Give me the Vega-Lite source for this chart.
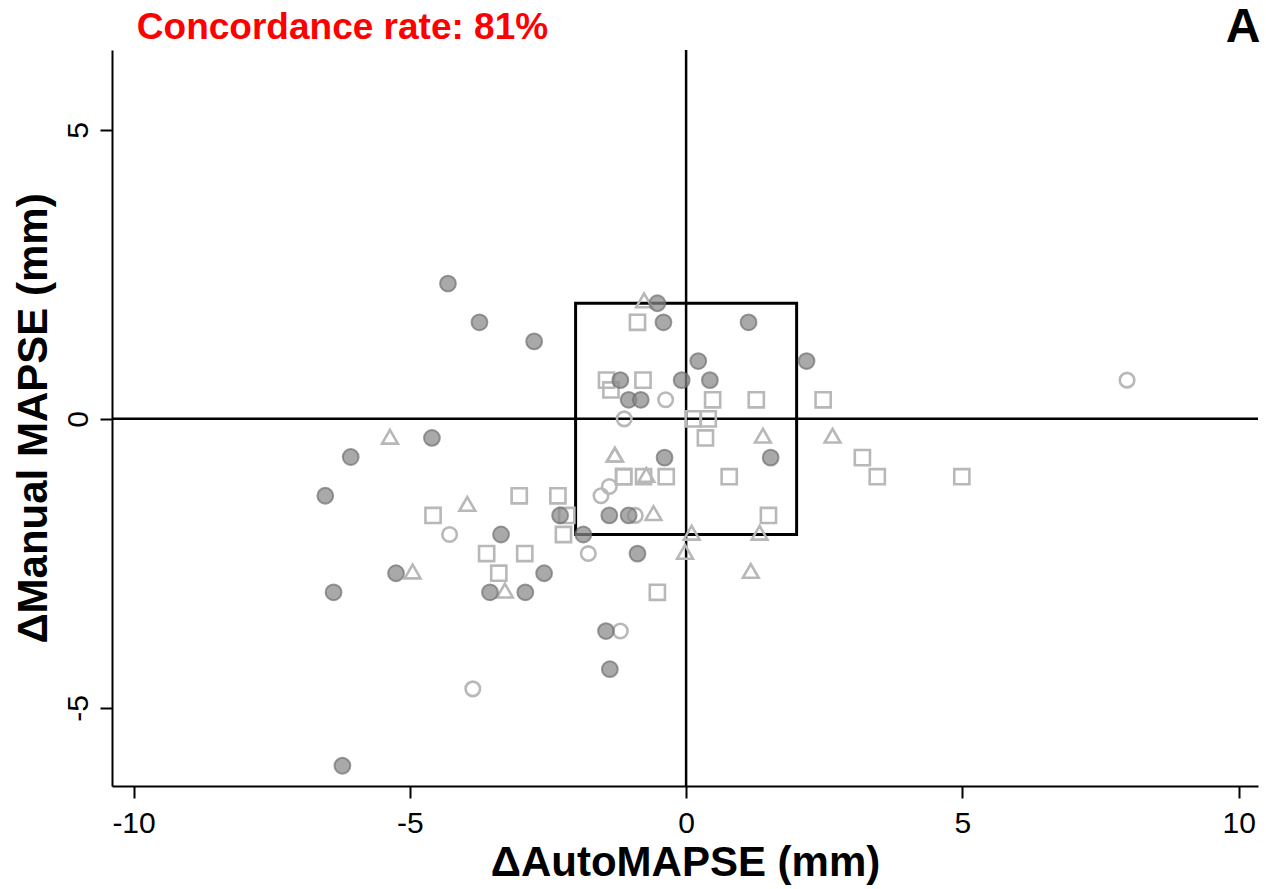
{
  "$schema": "https://vega.github.io/schema/vega-lite/v6.json",
  "autosize": {"type": "none"},
  "padding": {"left": 112, "top": 50, "right": 8, "bottom": 103},
  "width": 1146,
  "height": 736,
  "background": "white",
  "config": {
    "view": {"stroke": null},
    "font": "Liberation Sans",
    "axis": {
      "grid": false,
      "domainColor": "black",
      "domainWidth": 2,
      "tickColor": "black",
      "tickWidth": 2,
      "tickSize": 12,
      "labelFont": "Liberation Sans",
      "labelFontSize": 30,
      "labelColor": "black",
      "titleFont": "Liberation Sans",
      "titleFontSize": 42,
      "titleFontWeight": "bold",
      "titleColor": "black"
    }
  },
  "datasets": {
    "points": [
      {"dx": -4.31, "dy": 2.34, "type": "F"},
      {"dx": -3.74, "dy": 1.67, "type": "F"},
      {"dx": -2.75, "dy": 1.34, "type": "F"},
      {"dx": -4.60, "dy": -0.33, "type": "F"},
      {"dx": -6.07, "dy": -0.66, "type": "F"},
      {"dx": -6.53, "dy": -1.33, "type": "F"},
      {"dx": -2.28, "dy": -1.67, "type": "F"},
      {"dx": -3.35, "dy": -2.00, "type": "F"},
      {"dx": -5.25, "dy": -2.67, "type": "F"},
      {"dx": -2.57, "dy": -2.67, "type": "F"},
      {"dx": -6.38, "dy": -3.00, "type": "F"},
      {"dx": -3.55, "dy": -3.00, "type": "F"},
      {"dx": -2.91, "dy": -3.00, "type": "F"},
      {"dx": -6.22, "dy": -6.00, "type": "F"},
      {"dx": -0.52, "dy": 2.00, "type": "F"},
      {"dx": -0.41, "dy": 1.67, "type": "F"},
      {"dx": 1.13, "dy": 1.67, "type": "F"},
      {"dx": 0.22, "dy": 1.00, "type": "F"},
      {"dx": 2.18, "dy": 1.00, "type": "F"},
      {"dx": -1.19, "dy": 0.67, "type": "F"},
      {"dx": -0.08, "dy": 0.67, "type": "F"},
      {"dx": 0.43, "dy": 0.67, "type": "F"},
      {"dx": -1.04, "dy": 0.33, "type": "F"},
      {"dx": -0.82, "dy": 0.33, "type": "F"},
      {"dx": -0.39, "dy": -0.67, "type": "F"},
      {"dx": 1.53, "dy": -0.67, "type": "F"},
      {"dx": -1.39, "dy": -1.67, "type": "F"},
      {"dx": -1.04, "dy": -1.67, "type": "F"},
      {"dx": -1.86, "dy": -2.00, "type": "F"},
      {"dx": -0.88, "dy": -2.33, "type": "F"},
      {"dx": -1.45, "dy": -3.67, "type": "F"},
      {"dx": -1.38, "dy": -4.33, "type": "F"},
      {"dx": -4.28, "dy": -2.00, "type": "O"},
      {"dx": -3.86, "dy": -4.67, "type": "O"},
      {"dx": -0.37, "dy": 0.33, "type": "O"},
      {"dx": -1.12, "dy": 0.00, "type": "O"},
      {"dx": -1.39, "dy": -1.17, "type": "O"},
      {"dx": -1.54, "dy": -1.33, "type": "O"},
      {"dx": -0.92, "dy": -1.67, "type": "O"},
      {"dx": -1.77, "dy": -2.33, "type": "O"},
      {"dx": -1.19, "dy": -3.67, "type": "O"},
      {"dx": 7.98, "dy": 0.67, "type": "O"},
      {"dx": -4.58, "dy": -1.67, "type": "S"},
      {"dx": -3.02, "dy": -1.33, "type": "S"},
      {"dx": -2.32, "dy": -1.33, "type": "S"},
      {"dx": -2.16, "dy": -1.67, "type": "S"},
      {"dx": -2.22, "dy": -2.00, "type": "S"},
      {"dx": -3.61, "dy": -2.33, "type": "S"},
      {"dx": -2.92, "dy": -2.33, "type": "S"},
      {"dx": -3.39, "dy": -2.67, "type": "S"},
      {"dx": -0.88, "dy": 1.67, "type": "S"},
      {"dx": -1.44, "dy": 0.67, "type": "S"},
      {"dx": -0.78, "dy": 0.67, "type": "S"},
      {"dx": -1.36, "dy": 0.50, "type": "S"},
      {"dx": 0.48, "dy": 0.33, "type": "S"},
      {"dx": 1.27, "dy": 0.33, "type": "S"},
      {"dx": 2.48, "dy": 0.33, "type": "S"},
      {"dx": 0.13, "dy": 0.00, "type": "S"},
      {"dx": 0.40, "dy": 0.00, "type": "S"},
      {"dx": 0.35, "dy": -0.33, "type": "S"},
      {"dx": -1.13, "dy": -1.00, "type": "S"},
      {"dx": -1.13, "dy": -1.00, "type": "S"},
      {"dx": -0.77, "dy": -1.00, "type": "S"},
      {"dx": -0.36, "dy": -1.00, "type": "S"},
      {"dx": 0.78, "dy": -1.00, "type": "S"},
      {"dx": 1.49, "dy": -1.67, "type": "S"},
      {"dx": -0.52, "dy": -3.00, "type": "S"},
      {"dx": 3.19, "dy": -0.67, "type": "S"},
      {"dx": 3.46, "dy": -1.00, "type": "S"},
      {"dx": 4.99, "dy": -1.00, "type": "S"},
      {"dx": -5.36, "dy": -0.31, "type": "T"},
      {"dx": -3.96, "dy": -1.47, "type": "T"},
      {"dx": -4.95, "dy": -2.64, "type": "T"},
      {"dx": -3.28, "dy": -2.97, "type": "T"},
      {"dx": -0.76, "dy": 2.05, "type": "T"},
      {"dx": 1.39, "dy": -0.29, "type": "T"},
      {"dx": -1.29, "dy": -0.62, "type": "T"},
      {"dx": -1.29, "dy": -0.62, "type": "T"},
      {"dx": -0.72, "dy": -0.97, "type": "T"},
      {"dx": -0.59, "dy": -1.63, "type": "T"},
      {"dx": 0.10, "dy": -1.97, "type": "T"},
      {"dx": 1.33, "dy": -1.97, "type": "T"},
      {"dx": -0.02, "dy": -2.30, "type": "T"},
      {"dx": 1.17, "dy": -2.63, "type": "T"},
      {"dx": 2.65, "dy": -0.29, "type": "T"}
    ],
    "box": [{"x1": -2, "x2": 2, "y1": -2, "y2": 2}],
    "labels": [
      {"label": "A", "lx": 10.08, "ly": 6.52, "kind": "panel"},
      {"label": "Concordance rate: 81%", "lx": -9.94, "ly": 6.57, "kind": "title"}
    ]
  },
  "layer": [
    {
      "data": {"values": [{"v": 0}]},
      "mark": {"type": "rule", "color": "black", "strokeWidth": 2.5},
      "encoding": {"x": {"field": "v", "type": "quantitative"}}
    },
    {
      "data": {"values": [{"v": 0}]},
      "mark": {"type": "rule", "color": "black", "strokeWidth": 2.5},
      "encoding": {"y": {"field": "v", "type": "quantitative"}}
    },
    {
      "data": {"name": "box"},
      "mark": {"type": "rect", "filled": false, "stroke": "black", "strokeWidth": 3},
      "encoding": {
        "x": {"field": "x1", "type": "quantitative"},
        "x2": {"field": "x2"},
        "y": {"field": "y1", "type": "quantitative"},
        "y2": {"field": "y2"}
      }
    },
    {
      "data": {"name": "points"},
      "transform": [{"filter": "datum.type != 'F'"}],
      "mark": {"type": "point", "filled": false, "strokeWidth": 2.6, "color": "#b8b8b8", "opacity": 1},
      "encoding": {
        "x": {
          "field": "dx", "type": "quantitative",
          "scale": {"domain": [-10.39, 10.35], "nice": false, "zero": false},
          "axis": {
            "title": "ΔAutoMAPSE (mm)",
            "values": [-10, -5, 0, 5, 10],
            "labelExpr": "datum.value < 0 ? '-' + abs(datum.value) : '' + datum.value",
            "labelPadding": 10,
            "labelBaseline": "top",
            "titleY": 89,
            "titleBaseline": "alphabetic"
          }
        },
        "y": {
          "field": "dy", "type": "quantitative",
          "scale": {"domain": [-6.35, 6.38], "nice": false, "zero": false},
          "axis": {
            "title": "ΔManual MAPSE (mm)",
            "values": [-5, 0, 5],
            "labelExpr": "datum.value < 0 ? '-' + abs(datum.value) : '' + datum.value",
            "labelAngle": -90,
            "labelAlign": "center",
            "labelBaseline": "alphabetic",
            "labelPadding": 13,
            "titleX": -66,
            "titleY": 368,
            "titleAngle": -90,
            "titleAlign": "center",
            "titleBaseline": "alphabetic"
          }
        },
        "shape": {
          "field": "type", "type": "nominal",
          "scale": {"domain": ["O", "S", "T"], "range": ["circle", "square", "triangle-up"]},
          "legend": null
        },
        "size": {
          "field": "type", "type": "nominal",
          "scale": {"domain": ["O", "S", "T"], "range": [210, 250, 330]},
          "legend": null
        }
      }
    },
    {
      "data": {"name": "points"},
      "transform": [{"filter": "datum.type == 'F'"}],
      "mark": {"type": "point", "shape": "circle", "filled": true, "size": 250, "fill": "#888888", "fillOpacity": 0.72, "stroke": "#707070", "strokeOpacity": 0.7, "strokeWidth": 2},
      "encoding": {
        "x": {"field": "dx", "type": "quantitative"},
        "y": {"field": "dy", "type": "quantitative"}
      }
    },
    {
      "data": {"name": "labels"},
      "transform": [{"filter": "datum.kind == 'panel'"}],
      "mark": {"type": "text", "font": "Liberation Sans", "fontSize": 48, "fontWeight": "bold", "color": "black", "align": "center", "baseline": "alphabetic"},
      "encoding": {
        "x": {"field": "lx", "type": "quantitative"},
        "y": {"field": "ly", "type": "quantitative"},
        "text": {"field": "label"}
      }
    },
    {
      "data": {"name": "labels"},
      "transform": [{"filter": "datum.kind == 'title'"}],
      "mark": {"type": "text", "font": "Liberation Sans", "fontSize": 37, "fontWeight": "bold", "color": "#ff0000", "align": "left", "baseline": "alphabetic"},
      "encoding": {
        "x": {"field": "lx", "type": "quantitative"},
        "y": {"field": "ly", "type": "quantitative"},
        "text": {"field": "label"}
      }
    }
  ]
}
